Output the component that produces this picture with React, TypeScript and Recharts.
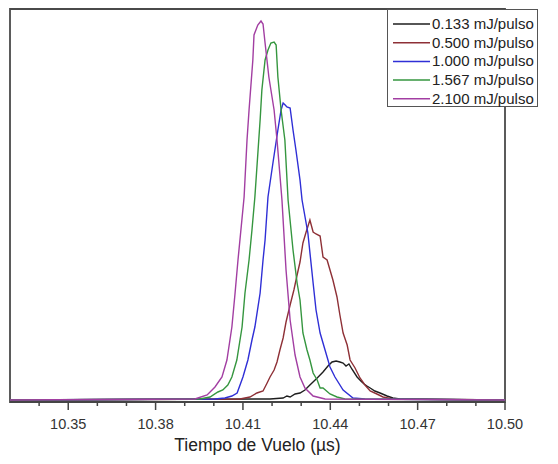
import React from 'react';
import { LineChart, Line, XAxis, YAxis, Legend, ReferenceArea } from 'recharts';

// ---- Data (time in µs, intensity in arbitrary units) ----
const seriesNames = ['0.133 mJ/pulso', '0.500 mJ/pulso', '1.000 mJ/pulso', '1.567 mJ/pulso', '2.100 mJ/pulso'];
const seriesColors = ['#1e1e1e', '#8e3036', '#2f2fd6', '#35963f', '#a23ea2'];

const time0133 = [10.33, 10.4193, 10.4238, 10.4251, 10.4262, 10.4279, 10.4296, 10.4313, 10.433, 10.4355, 10.4375, 10.4392, 10.4406, 10.442, 10.4433, 10.4444, 10.4454, 10.4464, 10.4474, 10.4492, 10.4505, 10.4516, 10.4526, 10.4537, 10.4553, 10.4571, 10.4595, 10.4615, 10.4639, 10.5];
const int0133 = [0, 1, 2, 4, 3, 6, 7, 10, 15, 22, 28, 34, 38, 39, 38, 37, 34, 36, 31, 23, 19, 16, 14, 12, 9, 7, 4, 2, 1, 0];

const time0500 = [10.33, 10.409, 10.4124, 10.4148, 10.4169, 10.4183, 10.4193, 10.4207, 10.4217, 10.4227, 10.4238, 10.4248, 10.4262, 10.4275, 10.4286, 10.4296, 10.4306, 10.4317, 10.433, 10.4341, 10.4351, 10.4365, 10.4375, 10.4389, 10.4409, 10.4423, 10.4433, 10.4444, 10.4458, 10.4468, 10.4485, 10.4502, 10.4519, 10.4537, 10.456, 10.4581, 10.4615, 10.5];
const int0500 = [0, 1, 3, 7, 9, 17, 23, 30, 38, 50, 62, 78, 95, 110, 125, 138, 157, 168, 180, 168, 166, 164, 143, 140, 120, 103, 85, 67, 55, 40, 32, 22, 15, 9, 6, 3, 1, 0];

const time1000 = [10.33, 10.4004, 10.4038, 10.4062, 10.408, 10.41, 10.4117, 10.4131, 10.4141, 10.4159, 10.4169, 10.4176, 10.4186, 10.4203, 10.422, 10.4231, 10.4238, 10.4245, 10.4251, 10.4262, 10.4272, 10.4282, 10.4296, 10.4303, 10.4323, 10.4341, 10.4351, 10.4365, 10.4382, 10.4399, 10.4416, 10.4444, 10.4478, 10.4519, 10.5];
const int1000 = [0, 1, 2, 4, 7, 23, 40, 60, 73, 107, 140, 160, 203, 237, 270, 290, 297, 295, 293, 292, 270, 250, 220, 200, 167, 117, 90, 67, 50, 33, 23, 10, 2, 1, 0];

const time1567 = [10.33, 10.3952, 10.3987, 10.4014, 10.4031, 10.4048, 10.4062, 10.4079, 10.4097, 10.4107, 10.4121, 10.4131, 10.4141, 10.4152, 10.4159, 10.4165, 10.4176, 10.4186, 10.4196, 10.4207, 10.4214, 10.422, 10.4231, 10.4244, 10.4255, 10.4272, 10.4286, 10.4296, 10.4306, 10.432, 10.433, 10.4341, 10.4355, 10.4365, 10.4375, 10.4399, 10.4423, 10.445, 10.5];
const int1567 = [0, 1, 3, 8, 10, 15, 23, 40, 73, 107, 140, 170, 203, 250, 280, 310, 340, 350, 357, 358, 355, 323, 290, 260, 200, 150, 117, 100, 67, 50, 40, 27, 20, 12, 12, 6, 3, 1, 0];

const time2100 = [10.33, 10.3935, 10.3977, 10.4004, 10.4028, 10.4045, 10.4062, 10.4073, 10.4083, 10.4104, 10.4114, 10.4121, 10.4134, 10.4138, 10.4151, 10.4162, 10.4169, 10.4176, 10.4189, 10.4207, 10.4217, 10.4227, 10.4234, 10.4248, 10.4262, 10.4279, 10.4296, 10.4313, 10.4341, 10.4382, 10.5];
const int2100 = [0, 1, 5, 13, 23, 40, 73, 107, 140, 203, 260, 290, 340, 365, 375, 379, 376, 357, 323, 290, 260, 225, 200, 130, 80, 45, 23, 12, 4, 1, 0];

const tickValues = [10.34, 10.35, 10.36, 10.37, 10.38, 10.39, 10.40, 10.41, 10.42, 10.43, 10.44, 10.45, 10.46, 10.47, 10.48, 10.49, 10.50];
const majorTickLabels = ['10.35', '10.38', '10.41', '10.44', '10.47', '10.50'];
const xTitle = 'Tiempo de Vuelo (µs)';
const xDomain: [number, number] = [10.33, 10.5];
const yDomain: [number, number] = [-2, 391];

const build = (ts: number[], vs: number[]) => ts.map((t, i) => ({ t, v: vs[i] }));
const seriesData = [
  build(time0133, int0133),
  build(time0500, int0500),
  build(time1000, int1000),
  build(time1567, int1567),
  build(time2100, int2100),
];

const FONT = '"Liberation Sans", Arial, sans-serif';

const XTick = (props: any) => {
  const { x, y, payload } = props;
  const label = Number(payload.value).toFixed(2);
  const major = majorTickLabels.includes(label);
  return (
    <g>
      <line x1={x} y1={y} x2={x} y2={y + (major ? 8 : 4)} stroke="#444" strokeWidth={1.5} />
      {major && (
        <text x={x} y={y + 27} textAnchor="middle" fontSize={14.5} fill="#333" fontFamily={FONT}>
          {label}
        </text>
      )}
    </g>
  );
};

const LegendBox = () => (
  <svg width={152} height={100} style={{ display: 'block' }}>
    <rect x={0.5} y={0.5} width={150} height={97} fill="#fff" stroke="#555" strokeWidth={1} />
    {seriesNames.map((n, i) => {
      const cy = 15 + i * 18.7;
      return (
        <g key={n}>
          <line x1={6} x2={43} y1={cy} y2={cy} stroke={seriesColors[i]} strokeWidth={1.5} />
          <text x={45} y={cy + 5} fontSize={15} fill="#222" fontFamily={FONT}>
            {n}
          </text>
        </g>
      );
    })}
  </svg>
);

export default function App() {
  return (
    <div style={{ position: 'absolute', left: 0, top: 0, background: '#fff' }}>
      <LineChart width={558} height={464} margin={{ top: 9, right: 53, left: 10, bottom: 0 }}>
        <XAxis
          dataKey="t"
          type="number"
          domain={xDomain}
          allowDataOverflow
          ticks={tickValues}
          interval={0}
          tickSize={0}
          tickMargin={0}
          tickLine={false}
          tick={<XTick />}
          height={62}
          axisLine={{ stroke: '#444', strokeWidth: 1.5 }}
          label={{ value: xTitle, position: 'insideBottom', offset: 13, fontSize: 17.5, fill: '#222', fontFamily: FONT }}
        />
        <YAxis type="number" domain={yDomain} allowDataOverflow hide width={0} />
        <ReferenceArea
          x1={xDomain[0]}
          x2={xDomain[1]}
          y1={yDomain[0]}
          y2={yDomain[1]}
          fill="none"
          stroke="#4a4a4a"
          strokeWidth={1.8}
          ifOverflow="visible"
        />
        {seriesData.map((d, i) => (
          <Line
            key={seriesNames[i]}
            data={d}
            dataKey="v"
            name={seriesNames[i]}
            type="linear"
            stroke={seriesColors[i]}
            strokeWidth={1.4}
            dot={false}
            isAnimationActive={false}
          />
        ))}
        <Legend
          layout="vertical"
          align="center"
          verticalAlign="middle"
          content={<LegendBox />}
          wrapperStyle={{ left: 387, top: 9, width: 152, height: 100 }}
        />
      </LineChart>
    </div>
  );
}
